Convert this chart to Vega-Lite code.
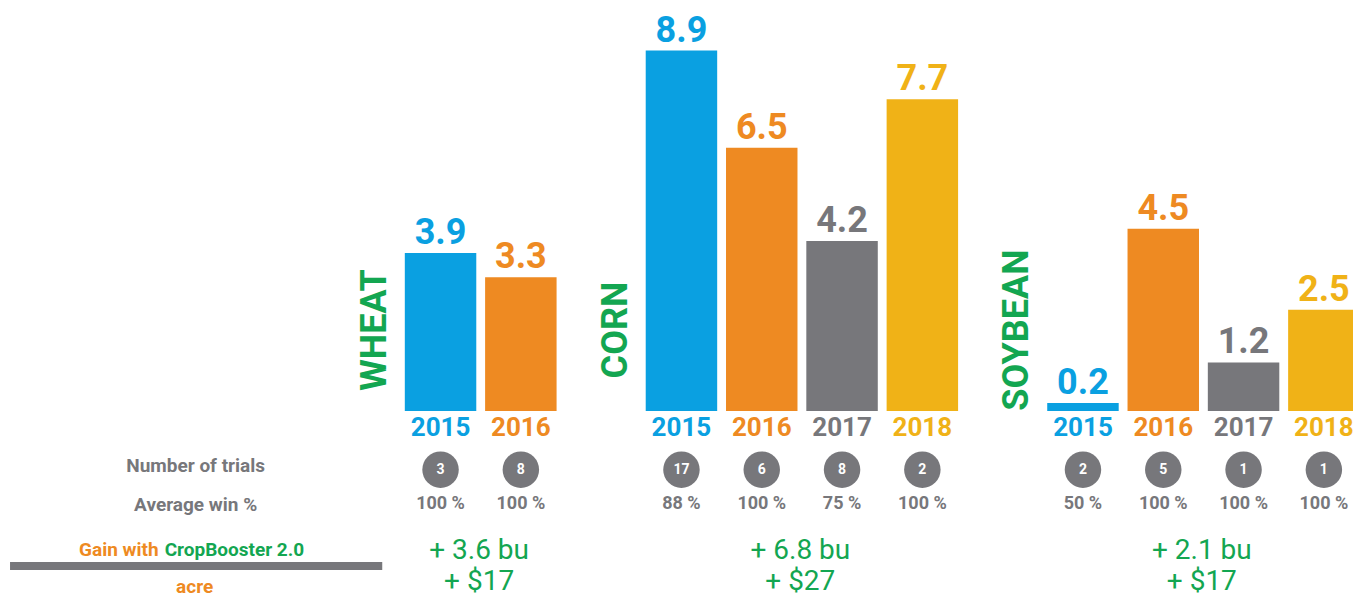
{
  "$schema": "https://vega.github.io/schema/vega-lite/v6.json",
  "width": 1353,
  "height": 594,
  "autosize": {"type": "none"},
  "padding": 0,
  "background": "white",
  "config": {"view": {"stroke": null}, "font": "Roboto"},
  "datasets": {
    "bars": [
      {"crop": "WHEAT", "year": "2015", "value": 3.9, "trials": 3, "win": "100 %"},
      {"crop": "WHEAT", "year": "2016", "value": 3.3, "trials": 8, "win": "100 %"},
      {"crop": "CORN", "year": "2015", "value": 8.9, "trials": 17, "win": "88 %"},
      {"crop": "CORN", "year": "2016", "value": 6.5, "trials": 6, "win": "100 %"},
      {"crop": "CORN", "year": "2017", "value": 4.2, "trials": 8, "win": "75 %"},
      {"crop": "CORN", "year": "2018", "value": 7.7, "trials": 2, "win": "100 %"},
      {"crop": "SOYBEAN", "year": "2015", "value": 0.2, "trials": 2, "win": "50 %"},
      {"crop": "SOYBEAN", "year": "2016", "value": 4.5, "trials": 5, "win": "100 %"},
      {"crop": "SOYBEAN", "year": "2017", "value": 1.2, "trials": 1, "win": "100 %"},
      {"crop": "SOYBEAN", "year": "2018", "value": 2.5, "trials": 1, "win": "100 %"}
    ],
    "groups": [
      {"crop": "WHEAT", "bu": "+ 3.6 bu", "usd": "+ $17"},
      {"crop": "CORN", "bu": "+ 6.8 bu", "usd": "+ $27"},
      {"crop": "SOYBEAN", "bu": "+ 2.1 bu", "usd": "+ $17"}
    ]
  },
  "layer": [
    {
      "data": {"name": "bars"},
      "transform": [{"calculate": "datum.crop + ' ' + datum.year", "as": "key"}],
      "mark": {"type": "bar"},
      "encoding": {
        "x": {
          "field": "key", "type": "nominal", "axis": null,
          "scale": {
            "domain": ["s5", "s4", "lab", "s2", "s1", "WHEAT 2015", "WHEAT 2016", "g1", "CORN 2015", "CORN 2016", "CORN 2017", "CORN 2018", "g2", "SOYBEAN 2015", "SOYBEAN 2016", "SOYBEAN 2017", "SOYBEAN 2018"],
            "range": [3.3, 1359.6],
            "paddingInner": 0.11,
            "paddingOuter": 0
          }
        },
        "y": {
          "field": "value", "type": "quantitative", "axis": null,
          "scale": {"domain": [-4.519, 10.148], "nice": false, "zero": false}
        },
        "color": {
          "field": "year", "type": "nominal", "legend": null,
          "scale": {"domain": ["2015", "2016", "2017", "2018"], "range": ["#0AA0E1", "#EE8A22", "#77777B", "#F0B217"]}
        }
      }
    },
    {
      "data": {"name": "bars"},
      "transform": [{"calculate": "datum.crop + ' ' + datum.year", "as": "key"}],
      "mark": {"type": "text", "fontSize": 36, "fontWeight": "bold", "baseline": "middle", "dy": -20},
      "encoding": {
        "x": {"field": "key", "type": "nominal"},
        "y": {"field": "value", "type": "quantitative"},
        "text": {"field": "value", "type": "quantitative", "format": ".1f"},
        "color": {"field": "year", "type": "nominal"}
      }
    },
    {
      "data": {"name": "bars"},
      "transform": [{"calculate": "datum.crop + ' ' + datum.year", "as": "key"}],
      "mark": {"type": "text", "fontSize": 26, "fontWeight": "bold", "baseline": "middle"},
      "encoding": {
        "x": {"field": "key", "type": "nominal"},
        "y": {"datum": -0.42, "type": "quantitative"},
        "text": {"field": "year", "type": "nominal"},
        "color": {"field": "year", "type": "nominal"}
      }
    },
    {
      "data": {"name": "bars"},
      "transform": [{"calculate": "datum.crop + ' ' + datum.year", "as": "key"}],
      "mark": {"type": "point", "filled": true, "shape": "circle", "size": 1330, "color": "#77777B", "opacity": 1},
      "encoding": {
        "x": {"field": "key", "type": "nominal"},
        "y": {"datum": -1.45, "type": "quantitative"}
      }
    },
    {
      "data": {"name": "bars"},
      "transform": [{"calculate": "datum.crop + ' ' + datum.year", "as": "key"}],
      "mark": {"type": "text", "fontSize": 14, "fontWeight": "bold", "color": "white", "baseline": "middle"},
      "encoding": {
        "x": {"field": "key", "type": "nominal"},
        "y": {"datum": -1.45, "type": "quantitative"},
        "text": {"field": "trials", "type": "quantitative"}
      }
    },
    {
      "data": {"name": "bars"},
      "transform": [{"calculate": "datum.crop + ' ' + datum.year", "as": "key"}],
      "mark": {"type": "text", "fontSize": 18, "fontWeight": "bold", "color": "#77777B", "baseline": "middle"},
      "encoding": {
        "x": {"field": "key", "type": "nominal"},
        "y": {"datum": -2.3, "type": "quantitative"},
        "text": {"field": "win", "type": "nominal"}
      }
    },
    {
      "data": {"name": "groups"},
      "transform": [{"calculate": "datum.crop + ' 2015'", "as": "key"}],
      "mark": {"type": "text", "fontSize": 36, "fontWeight": "bold", "color": "#13A651", "angle": 270, "align": "center", "baseline": "middle", "dy": -30},
      "encoding": {
        "x": {"field": "key", "type": "nominal", "bandPosition": 0},
        "y": {"datum": 2.0, "type": "quantitative"},
        "text": {"field": "crop", "type": "nominal"}
      }
    },
    {
      "data": {"name": "groups"},
      "transform": [{"calculate": "datum.crop + (datum.crop == 'WHEAT' ? ' 2016' : ' 2017')", "as": "key"}],
      "mark": {"type": "text", "fontSize": 28, "color": "#13A651", "baseline": "middle", "dx": -6},
      "encoding": {
        "x": {"field": "key", "type": "nominal", "bandPosition": 0},
        "y": {"datum": -3.46, "type": "quantitative"},
        "text": {"field": "bu", "type": "nominal"}
      }
    },
    {
      "data": {"name": "groups"},
      "transform": [{"calculate": "datum.crop + (datum.crop == 'WHEAT' ? ' 2016' : ' 2017')", "as": "key"}],
      "mark": {"type": "text", "fontSize": 28, "color": "#13A651", "baseline": "middle", "dx": -6},
      "encoding": {
        "x": {"field": "key", "type": "nominal", "bandPosition": 0},
        "y": {"datum": -4.22, "type": "quantitative"},
        "text": {"field": "usd", "type": "nominal"}
      }
    },
    {
      "data": {"values": [{"t": "Number of trials"}]},
      "mark": {"type": "text", "fontSize": 19, "fontWeight": "bold", "color": "#77777B", "baseline": "middle", "dx": -4},
      "encoding": {
        "x": {"datum": "lab", "type": "nominal"},
        "y": {"datum": -1.36, "type": "quantitative"},
        "text": {"field": "t", "type": "nominal"}
      }
    },
    {
      "data": {"values": [{"t": "Average win %"}]},
      "mark": {"type": "text", "fontSize": 19, "fontWeight": "bold", "color": "#77777B", "baseline": "middle", "dx": -4},
      "encoding": {
        "x": {"datum": "lab", "type": "nominal"},
        "y": {"datum": -2.32, "type": "quantitative"},
        "text": {"field": "t", "type": "nominal"}
      }
    },
    {
      "data": {"values": [{"t": "Gain with"}]},
      "mark": {"type": "text", "fontSize": 19, "fontWeight": "bold", "color": "#EE8A22", "baseline": "middle", "align": "right", "dx": -41},
      "encoding": {
        "x": {"datum": "lab", "type": "nominal"},
        "y": {"datum": -3.43, "type": "quantitative"},
        "text": {"field": "t", "type": "nominal"}
      }
    },
    {
      "data": {"values": [{"t": "CropBooster 2.0"}]},
      "mark": {"type": "text", "fontSize": 19, "fontWeight": "bold", "color": "#13A651", "baseline": "middle", "align": "left", "dx": -35},
      "encoding": {
        "x": {"datum": "lab", "type": "nominal"},
        "y": {"datum": -3.43, "type": "quantitative"},
        "text": {"field": "t", "type": "nominal"}
      }
    },
    {
      "data": {"values": [{"t": "acre"}]},
      "mark": {"type": "text", "fontSize": 19, "fontWeight": "bold", "color": "#EE8A22", "baseline": "middle", "dx": -5},
      "encoding": {
        "x": {"datum": "lab", "type": "nominal"},
        "y": {"datum": -4.35, "type": "quantitative"},
        "text": {"field": "t", "type": "nominal"}
      }
    },
    {
      "data": {"values": [{}]},
      "mark": {"type": "rule", "color": "#77777B", "strokeWidth": 8, "xOffset": -29, "x2Offset": 22},
      "encoding": {
        "x": {"datum": "s5", "type": "nominal"},
        "x2": {"datum": "s1"},
        "y": {"datum": -3.83, "type": "quantitative"}
      }
    }
  ]
}
